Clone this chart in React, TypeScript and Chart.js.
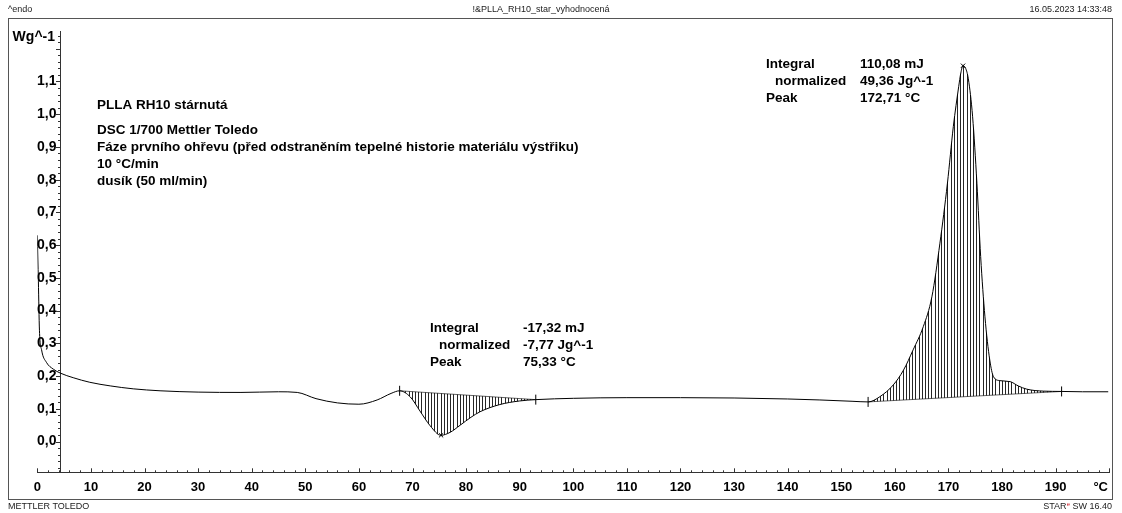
import React, { useEffect, useRef } from 'react';
import { Chart, registerables } from 'chart.js';

Chart.register(...registerables);

// ---------- data ----------
const temperatureC = [
  0, 0.2, 0.4, 0.8, 1.7, 3, 4.3, 6.7, 9.8, 13.6, 17.9, 22.9, 30, 38, 45, 48.5,
  52, 56, 60, 63.4, 66, 67.6, 69.6, 71.4, 73.3, 75.3, 77, 78.9, 80.9, 82.6,
  86.3, 90, 93, 100, 110, 120, 130, 140, 146, 152, 155, 157.2, 159.7, 161.6,
  163.4, 165.3, 166.9, 168.4, 169.8, 170.9, 171.9, 172.3, 172.7, 173.2, 173.7,
  174.5, 175.3, 176.0, 176.8, 177.7, 178.4, 179.6, 181.5, 183.0, 184.6, 187.7,
  191.1, 195, 199.8,
];
const heatFlowWg = [
  0.63, 0.49, 0.34, 0.28, 0.242, 0.221, 0.209, 0.195, 0.181, 0.17, 0.161, 0.155,
  0.151, 0.15, 0.152, 0.15, 0.131, 0.118, 0.114, 0.127, 0.147, 0.155, 0.136,
  0.093, 0.048, 0.019, 0.028, 0.05, 0.074, 0.091, 0.113, 0.124, 0.128, 0.132,
  0.134, 0.134, 0.133, 0.13, 0.127, 0.123, 0.121, 0.137, 0.173, 0.218, 0.28,
  0.351, 0.442, 0.606, 0.789, 0.962, 1.084, 1.126, 1.148, 1.14, 1.108,
  0.992, 0.789, 0.565, 0.381, 0.249, 0.198, 0.186, 0.183, 0.17, 0.16, 0.154,
  0.153, 0.152, 0.152,
];

const xTickValues = [0, 10, 20, 30, 40, 50, 60, 70, 80, 90, 100, 110, 120, 130, 140, 150, 160, 170, 180, 190];
const yTickValues = [0, 0.1, 0.2, 0.3, 0.4, 0.5, 0.6, 0.7, 0.8, 0.9, 1.0, 1.1];
const xUnitLabel = '°C';
const yUnitLabel = 'Wg^-1';

const coldCrystLimitsC = [67.6, 93.0];
const coldCrystLimitValues = [0.155, 0.128];
const meltLimitsC = [155.0, 191.1];
const meltLimitValues = [0.121, 0.153];
const peakTempsC = [75.33, 172.71];
const peakValuesWg = [0.019, 1.148];

const infoLines = [
  'PLLA RH10 stárnutá',
  'DSC 1/700 Mettler Toledo',
  'Fáze prvního ohřevu (před odstraněním tepelné historie materiálu výstřiku)',
  '10 °C/min',
  'dusík (50 ml/min)',
];
const resultLabels = ['Integral', '  normalized', 'Peak'];
const coldCrystResults = ['-17,32 mJ', '-7,77 Jg^-1', '75,33 °C'];
const meltResults = ['110,08 mJ', '49,36 Jg^-1', '172,71 °C'];

const headerLeft = '^endo';
const headerCenter = '!&PLLA_RH10_star_vyhodnocená';
const headerRight = '16.05.2023 14:33:48';
const footerLeft = 'METTLER TOLEDO';

// ---------- styles ----------
const FONT = '"Liberation Sans", Arial, Helvetica, sans-serif';
const W = 1122;
const H = 513;

function hatch(chart: any, limits: number[], vals: number[]) {
  const ctx = chart.ctx;
  const xs = chart.scales.x;
  const ys = chart.scales.y;
  const line = chart.getDatasetMeta(0).dataset;
  const p0 = xs.getPixelForValue(limits[0]);
  const p1 = xs.getPixelForValue(limits[1]);
  ctx.save();
  ctx.strokeStyle = 'rgba(0,0,0,0.85)';
  ctx.lineWidth = 1;
  for (let px = p0 + 2.5; px < p1 - 1; px += 3.2) {
    const x = Math.round(px) + 0.5;
    const t = xs.getValueForPixel(x);
    const base = vals[0] + ((vals[1] - vals[0]) * (t - limits[0])) / (limits[1] - limits[0]);
    const by = ys.getPixelForValue(base);
    const pt = line.interpolate({ x }, 'x');
    if (!pt || Array.isArray(pt)) continue;
    ctx.beginPath();
    ctx.moveTo(x, by);
    ctx.lineTo(x, pt.y);
    ctx.stroke();
  }
  ctx.restore();
}

const overlayPlugin = {
  id: 'dscOverlay',
  beforeDraw(chart: any) {
    const ctx = chart.ctx;
    ctx.save();
    ctx.fillStyle = '#fff';
    ctx.fillRect(0, 0, W, H);
    ctx.restore();
  },
  afterDatasetsDraw(chart: any) {
    hatch(chart, coldCrystLimitsC, coldCrystLimitValues);
    hatch(chart, meltLimitsC, meltLimitValues);
  },
  afterDraw(chart: any) {
    const ctx = chart.ctx;
    const xs = chart.scales.x;
    const ys = chart.scales.y;
    const area = chart.chartArea;
    ctx.save();
    // tick marks
    ctx.strokeStyle = '#333';
    ctx.lineWidth = 1;
    for (let k = 0; k <= 100; k++) {
      const v = k * 2;
      const x = Math.round(xs.getPixelForValue(v)) + 0.5;
      const len = k % 5 === 0 ? 4 : 2;
      ctx.beginPath();
      ctx.moveTo(x, area.bottom);
      ctx.lineTo(x, area.bottom - len);
      ctx.stroke();
    }
    const ax = Math.round(xs.getPixelForValue(4.3));
    for (let k = -4; k <= 62; k++) {
      const v = k * 0.02;
      const y = Math.round(ys.getPixelForValue(v)) + 0.5;
      const major = k % 5 === 0;
      ctx.beginPath();
      ctx.moveTo(ax - (major ? 4 : 2), y);
      ctx.lineTo(ax + (major ? 0 : 1), y);
      ctx.stroke();
    }
    // frame
    ctx.strokeStyle = '#555';
    ctx.strokeRect(8.5, 18.5, 1104, 481);
    // axis unit labels
    ctx.fillStyle = '#000';
    ctx.textBaseline = 'middle';
    ctx.font = `bold 14px ${FONT}`;
    ctx.textAlign = 'right';
    ctx.fillText(yUnitLabel, 55, 37);
    ctx.font = `bold 13px ${FONT}`;
    ctx.fillText(xUnitLabel, 1108, 487);
    // info block
    ctx.textAlign = 'left';
    ctx.font = `bold 13.5px ${FONT}`;
    ctx.fillText(infoLines[0], 97, 105);
    for (let i = 1; i < infoLines.length; i++) ctx.fillText(infoLines[i], 97, 130 + (i - 1) * 17);
    // results
    const drawResults = (x0: number, x1: number, y0: number, vals: string[]) => {
      for (let i = 0; i < 3; i++) {
        const lbl = resultLabels[i];
        const trimmed = lbl.trimStart();
        ctx.fillText(trimmed, x0 + (lbl !== trimmed ? 9 : 0), y0 + i * 17);
        ctx.fillText(vals[i], x1, y0 + i * 17);
      }
    };
    drawResults(430, 523, 328, coldCrystResults);
    drawResults(766, 860, 64, meltResults);
    // header / footer
    ctx.font = `9px ${FONT}`;
    ctx.fillStyle = '#222';
    ctx.textAlign = 'left';
    ctx.fillText(headerLeft, 8, 10);
    ctx.fillText(footerLeft, 8, 507);
    ctx.textAlign = 'center';
    ctx.fillText(headerCenter, 541, 10);
    ctx.textAlign = 'right';
    ctx.fillText(headerRight, 1112, 10);
    // STARe SW 16.40
    const tail = ' SW 16.40';
    const tw = ctx.measureText(tail).width;
    ctx.fillText(tail, 1112, 507);
    const ew = ctx.measureText('e').width * 0.7;
    ctx.fillStyle = '#d0202a';
    ctx.font = `6px ${FONT}`;
    ctx.fillText('e', 1112 - tw, 504);
    ctx.fillStyle = '#222';
    ctx.font = `9px ${FONT}`;
    ctx.fillText('STAR', 1112 - tw - ew, 507);
    ctx.restore();
  },
};

export default function App() {
  const canvasRef = useRef<HTMLCanvasElement | null>(null);

  useEffect(() => {
    const canvas = canvasRef.current;
    if (!canvas) return;
    const points = temperatureC.map((t, i) => ({ x: t, y: heatFlowWg[i] }));
    const chart = new Chart(canvas, {
      type: 'scatter',
      data: {
        datasets: [
          {
            data: points,
            showLine: true,
            borderColor: '#000',
            borderWidth: 1,
            pointRadius: 0,
            cubicInterpolationMode: 'monotone',
          },
          {
            data: coldCrystLimitsC.map((t, i) => ({ x: t, y: coldCrystLimitValues[i] })),
            showLine: true,
            borderColor: '#666',
            borderWidth: 1,
            pointStyle: 'line',
            rotation: 90,
            pointRadius: 5,
            pointBorderColor: '#000',
          },
          {
            data: meltLimitsC.map((t, i) => ({ x: t, y: meltLimitValues[i] })),
            showLine: true,
            borderColor: '#666',
            borderWidth: 1,
            pointStyle: 'line',
            rotation: 90,
            pointRadius: 5,
            pointBorderColor: '#000',
          },
          {
            data: peakTempsC.map((t, i) => ({ x: t, y: peakValuesWg[i] })),
            showLine: false,
            pointStyle: 'crossRot',
            pointRadius: 3,
            borderColor: '#000',
            borderWidth: 1,
          },
        ],
      },
      options: {
        animation: false,
        responsive: false,
        events: [],
        layout: { padding: { left: 37.3, right: 12.7, top: 31.7, bottom: 0 } },
        plugins: {
          legend: { display: false },
          tooltip: { enabled: false },
          title: { display: false },
        },
        scales: {
          x: {
            type: 'linear',
            position: 'bottom',
            min: 0,
            max: 200,
            afterFit: (s: any) => {
              s.height = 40.7;
            },
            afterBuildTicks: (s: any) => {
              s.ticks = xTickValues.map((v) => ({ value: v }));
            },
            grid: { display: false },
            border: { display: true, color: '#333', width: 1 },
            ticks: {
              color: '#000',
              padding: -1,
              autoSkip: false,
              maxRotation: 0,
              font: { family: FONT, size: 13, weight: 'bold' },
              callback: (v: any) => String(v),
            },
          },
          y: {
            type: 'linear',
            position: { x: 4.3 } as any,
            min: -0.094,
            max: 1.252,
            afterBuildTicks: (s: any) => {
              s.ticks = yTickValues.map((v) => ({ value: v }));
            },
            grid: { display: false },
            border: { display: true, color: '#333', width: 1 },
            ticks: {
              color: '#000',
              padding: 5,
              autoSkip: false,
              font: { family: FONT, size: 14, weight: 'bold' },
              callback: (v: any) => Number(v).toFixed(1).replace('.', ',') + ' ',
            },
          },
        },
      },
      plugins: [overlayPlugin],
    } as any);
    return () => chart.destroy();
  }, []);

  return (
    <div style={{ position: 'fixed', left: 0, top: 0, width: W, height: H, background: '#fff' }}>
      <canvas ref={canvasRef} width={W} height={H} style={{ display: 'block', width: W, height: H }} />
    </div>
  );
}
